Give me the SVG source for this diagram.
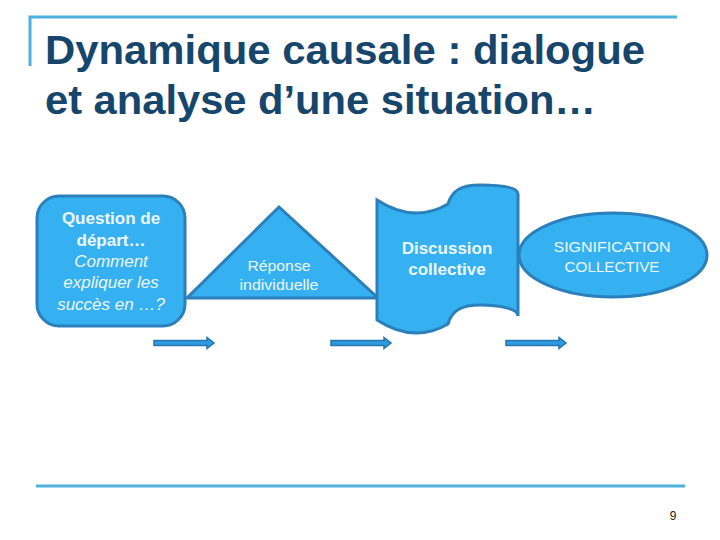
<svg xmlns="http://www.w3.org/2000/svg" width="720" height="540" viewBox="0 0 720 540">
<style>
.title{font-family:"Liberation Sans",Arial,sans-serif;font-weight:bold;font-size:40px;fill:#17466d}
.shape{fill:#35b0f0;stroke:#2b7fba;stroke-width:3}
.t{font-family:"Liberation Sans",Arial,sans-serif;fill:#eef8ff;text-anchor:middle}
.b{font-weight:bold;font-size:17px}
.i{font-style:italic;font-size:17px}
.l{font-size:15.5px}
.arrow{fill:#2d9be0;stroke:#2874ad;stroke-width:1.5}
.rule{stroke:#4fb0dc;stroke-width:3;fill:none}
</style>
<rect width="720" height="540" fill="#ffffff"/>
<path class="rule" d="M30,66 V17 H677"/>
<line class="rule" x1="36" y1="486" x2="685" y2="486"/>
<text class="title" x="45" y="64" textLength="600" lengthAdjust="spacingAndGlyphs">Dynamique causale : dialogue</text>
<text class="title" x="45" y="114" textLength="551" lengthAdjust="spacingAndGlyphs">et analyse d’une situation…</text>
<g id="node-question">
<rect class="shape" x="37" y="196" width="148" height="130" rx="22"/>
<text class="t b" x="111" y="224">Question de</text>
<text class="t b" x="111" y="246">départ…</text>
<text class="t i" x="111" y="267">Comment</text>
<text class="t i" x="111" y="288">expliquer les</text>
<text class="t i" x="111" y="310">succès en …?</text>
</g>
<g id="node-reponse">
<polygon class="shape" points="279,207 187,298 378,298"/>
<text class="t l" x="279" y="271" textLength="63" lengthAdjust="spacingAndGlyphs">Réponse</text>
<text class="t l" x="279" y="290" textLength="79" lengthAdjust="spacingAndGlyphs">individuelle</text>
</g>
<g id="node-discussion">
<path class="shape" d="M377,200 Q414,224 448,204 C452,190 462,185 480,185 C500,185 518,187 518,194 V316 C518,309 500,305 480,305 C462,305 452,310 448,324 Q414,344 377,320 Z"/>
<text class="t b" x="447" y="254" font-size="16">Discussion</text>
<text class="t b" x="447" y="275" font-size="16">collective</text>
</g>
<g id="node-signification">
<ellipse class="shape" cx="613" cy="255" rx="94" ry="42"/>
<text class="t l" x="612" y="252" textLength="117" lengthAdjust="spacingAndGlyphs">SIGNIFICATION</text>
<text class="t l" x="612" y="272" textLength="95" lengthAdjust="spacingAndGlyphs">COLLECTIVE</text>
</g>
<g id="connectors">
<path class="arrow" d="M154,340.5 H207 V337.5 L214,343 L207,348.5 V345.5 H154 Z"/>
<path class="arrow" d="M331,340.5 H384 V337.5 L391,343 L384,348.5 V345.5 H331 Z"/>
<path class="arrow" d="M506,340.5 H559 V337.5 L566,343 L559,348.5 V345.5 H506 Z"/>
</g>
<text x="673" y="520" font-family="Liberation Sans,Arial,sans-serif" font-size="12" fill="#222" text-anchor="middle">9</text>
</svg>
